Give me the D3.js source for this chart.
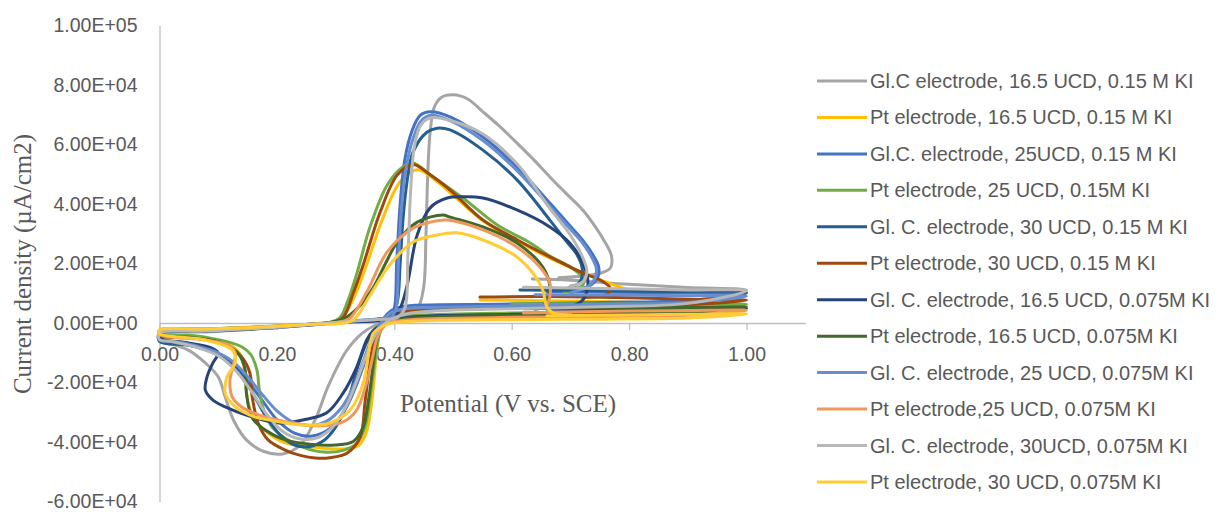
<!DOCTYPE html>
<html>
<head>
<meta charset="utf-8">
<script src="https://cdn.jsdelivr.net/npm/d3@7"></script>
<style>
  html, body { margin: 0; padding: 0; background: #ffffff; }
  svg { display: block; }
  .tick text { font-family: "Liberation Sans", Arial, sans-serif; font-size: 19.5px; fill: #595959; }
  .legend text { font-family: "Liberation Sans", Arial, sans-serif; font-size: 20px; fill: #595959; }
  .title { font-family: "Liberation Serif", "Times New Roman", serif; font-size: 25px; fill: #595959; }
</style>
</head>
<body>
<svg id="chart" width="1223" height="512"></svg>
<script>
// Cyclic voltammograms: [potential (V vs. SCE), current density (µA/cm2)]
const glc165_015 = [[0.635,14800],[0.70,14400],[0.80,13000],[0.90,11900],[1.00,11000],
  [0.92,7800],[0.78,6400],[0.62,5300],[0.50,4500],[0.43,3300],[0.40,1500],[0.37,-500],[0.345,-3500],[0.318,-9500],[0.288,-21000],[0.265,-32600],[0.24,-41000],[0.21,-44000],[0.178,-43200],[0.148,-39300],[0.126,-32600],[0.112,-24900],[0.10,-18100],[0.078,-13400],[0.049,-9100],[0.015,-6800],[0.0,-6000],
  [0.0,-3800],[0.08,-3000],[0.18,-1800],[0.27,-500],[0.33,600],[0.38,1500],[0.42,2500],[0.44,5000],[0.45,12000],[0.454,30000],[0.457,50000],[0.461,64000],[0.468,72500],[0.48,75800],[0.50,76700],[0.525,75300],[0.551,71000],[0.58,66000],[0.609,60500],[0.637,55000],[0.665,49100],[0.693,43500],[0.721,38000],[0.742,32500],[0.758,27500],[0.77,22500],[0.768,18500],[0.752,16800],[0.72,15800],[0.68,15200]];

const pt165_015 = [[0.546,7700],[0.65,7500],[0.80,7000],[0.90,6500],[1.00,6000],
  [0.90,3800],[0.75,3200],[0.60,2700],[0.48,2300],[0.42,1800],[0.39,500],[0.377,-2500],[0.371,-8000],[0.366,-18000],[0.36,-29000],[0.352,-37000],[0.34,-41000],[0.32,-42200],[0.29,-42300],[0.255,-41500],[0.214,-40300],[0.185,-37000],[0.163,-32600],[0.151,-26900],[0.146,-18100],[0.14,-11400],[0.125,-8000],[0.106,-6700],[0.05,-4800],[0.0,-4000],
  [0.0,-2700],[0.08,-2200],[0.18,-1400],[0.26,-400],[0.29,200],[0.31,1500],[0.33,8000],[0.35,18000],[0.38,35000],[0.41,47500],[0.44,51500],[0.47,48000],[0.50,43000],[0.55,34500],[0.61,27500],[0.665,21800],[0.72,17000],[0.76,13800],[0.80,11000]];

const glc25_015 = [[0.66,10500],[0.78,10300],[0.90,10100],[1.00,10000],
  [0.90,7600],[0.75,6900],[0.60,6400],[0.48,6100],[0.42,5700],[0.395,4200],[0.38,1000],[0.37,-2500],[0.36,-7000],[0.348,-14000],[0.333,-22000],[0.315,-29500],[0.29,-35500],[0.26,-38000],[0.23,-37000],[0.20,-32500],[0.175,-26000],[0.15,-19500],[0.125,-14000],[0.10,-10500],[0.065,-8200],[0.03,-6600],[0.0,-5700],
  [0.0,-3300],[0.08,-2600],[0.18,-1600],[0.27,-300],[0.33,700],[0.37,1300],[0.392,2000],[0.40,5000],[0.404,20000],[0.41,40000],[0.418,55000],[0.43,64500],[0.444,69800],[0.461,71000],[0.495,69300],[0.551,62500],[0.609,52400],[0.665,40300],[0.70,32500],[0.721,27800],[0.738,23000],[0.748,19000],[0.747,15500],[0.735,12800],[0.715,11500]];

const pt25_015 = [[0.60,6500],[0.75,6400],[0.90,6300],[1.00,6200],
  [0.90,4600],[0.75,3900],[0.60,3400],[0.48,2900],[0.42,2300],[0.39,800],[0.378,-2000],[0.372,-6000],[0.366,-14000],[0.358,-26000],[0.35,-35000],[0.336,-40500],[0.313,-42800],[0.28,-43400],[0.245,-41800],[0.214,-38700],[0.192,-35000],[0.178,-29500],[0.17,-22500],[0.166,-15800],[0.155,-10500],[0.14,-8000],[0.117,-6400],[0.06,-4300],[0.0,-3400],
  [0.0,-2400],[0.08,-2000],[0.18,-1200],[0.26,-300],[0.29,200],[0.307,1700],[0.32,7000],[0.336,16500],[0.359,32500],[0.388,46400],[0.415,52500],[0.432,53800],[0.46,50000],[0.517,42000],[0.575,33000],[0.631,27000],[0.665,22500],[0.70,18800],[0.72,15500],[0.722,13000],[0.71,11500],[0.69,10500]];

const glc30_015 = [[0.614,11100],[0.70,11000],[0.85,10600],[1.00,10200],
  [0.90,6300],[0.75,5500],[0.60,5000],[0.48,4500],[0.42,3700],[0.39,1200],[0.375,-1500],[0.364,-3500],[0.353,-6500],[0.336,-15800],[0.32,-26900],[0.30,-35000],[0.28,-39500],[0.255,-41500],[0.23,-41000],[0.205,-37500],[0.18,-31000],[0.16,-24000],[0.14,-17500],[0.12,-12500],[0.09,-9500],[0.05,-7500],[0.0,-6200],
  [0.0,-3500],[0.08,-2800],[0.18,-1800],[0.27,-400],[0.33,600],[0.37,1200],[0.395,2500],[0.405,7000],[0.41,20000],[0.415,35300],[0.422,48000],[0.432,57500],[0.456,64200],[0.473,65500],[0.495,64900],[0.551,58100],[0.609,48100],[0.665,34600],[0.695,27000],[0.711,23000],[0.72,18500],[0.718,14500],[0.705,12200],[0.68,11300]];

const pt30_015 = [[0.546,8700],[0.65,8900],[0.80,8500],[0.90,8000],[1.00,7600],
  [0.90,6100],[0.75,5500],[0.60,5000],[0.48,4600],[0.42,4000],[0.39,1500],[0.378,-1500],[0.37,-4000],[0.364,-7500],[0.359,-12400],[0.35,-26900],[0.342,-38300],[0.32,-43700],[0.29,-45300],[0.265,-45400],[0.24,-44500],[0.214,-42700],[0.185,-39300],[0.168,-33600],[0.158,-24900],[0.154,-16800],[0.14,-11400],[0.106,-6700],[0.05,-5000],[0.0,-4300],
  [0.0,-2900],[0.08,-2400],[0.18,-1500],[0.26,-500],[0.29,0],[0.312,1700],[0.33,10000],[0.347,19500],[0.376,37300],[0.405,49700],[0.432,53300],[0.46,50000],[0.495,44700],[0.551,34600],[0.609,28000],[0.665,22200],[0.721,16800],[0.75,14500],[0.767,12000],[0.765,10000],[0.745,8800],[0.72,8600]];

const glc165_0075 = [[0.66,4600],[0.80,4700],[0.90,4700],[1.00,4800],
  [0.90,3800],[0.75,3300],[0.60,2900],[0.48,2500],[0.42,1800],[0.39,500],[0.375,-1000],[0.364,-2500],[0.353,-5700],[0.336,-14800],[0.313,-23500],[0.285,-30200],[0.244,-32600],[0.209,-33600],[0.185,-33000],[0.163,-31900],[0.124,-29200],[0.091,-25900],[0.078,-22500],[0.081,-18100],[0.091,-13400],[0.10,-10100],[0.089,-8400],[0.049,-6700],[0.0,-5000],
  [0.0,-3100],[0.08,-2500],[0.18,-1600],[0.27,-300],[0.33,400],[0.37,700],[0.395,1500],[0.41,5000],[0.422,12800],[0.439,29600],[0.461,38700],[0.49,42000],[0.517,42400],[0.551,42000],[0.609,38000],[0.665,32300],[0.699,26900],[0.721,20200],[0.73,13400],[0.721,7700],[0.694,5000],[0.675,4600]];

const pt165_0075 = [[0.62,4800],[0.75,5000],[0.90,5200],[1.00,5300],
  [0.90,3600],[0.75,3000],[0.60,2600],[0.48,2200],[0.42,1500],[0.39,300],[0.377,-2000],[0.37,-6000],[0.364,-14000],[0.356,-26000],[0.347,-35000],[0.33,-39800],[0.30,-41000],[0.26,-40800],[0.214,-39300],[0.18,-36000],[0.158,-31900],[0.148,-23500],[0.146,-15800],[0.135,-10500],[0.11,-7000],[0.05,-4800],[0.0,-4000],
  [0.0,-2600],[0.08,-2100],[0.18,-1300],[0.26,-300],[0.29,200],[0.315,1500],[0.34,5500],[0.364,11800],[0.385,20000],[0.405,27200],[0.439,33900],[0.483,36300],[0.495,35600],[0.551,32300],[0.609,26900],[0.653,18800],[0.665,12100],[0.66,7500],[0.653,5400],[0.64,4600]];

const glc25_0075 = [[0.64,9500],[0.78,9400],[0.90,9200],[1.00,9000],
  [0.90,6900],[0.75,6200],[0.60,5700],[0.48,5300],[0.42,4800],[0.395,3500],[0.38,800],[0.37,-2500],[0.358,-7000],[0.345,-14000],[0.33,-21500],[0.31,-28500],[0.285,-33000],[0.26,-34500],[0.23,-33500],[0.20,-29500],[0.175,-24000],[0.15,-18000],[0.125,-13000],[0.10,-10000],[0.065,-7800],[0.03,-6300],[0.0,-5500],
  [0.0,-3200],[0.08,-2500],[0.18,-1500],[0.27,-300],[0.33,700],[0.37,1200],[0.395,2000],[0.403,5000],[0.407,20000],[0.412,38000],[0.42,52000],[0.432,62000],[0.446,68000],[0.463,69800],[0.495,68000],[0.551,61300],[0.609,51200],[0.665,39200],[0.70,31500],[0.721,26800],[0.736,22200],[0.744,18500],[0.742,15000],[0.73,12300],[0.70,10200]];

const pt25_0075 = [[0.62,3400],[0.80,4000],[0.90,4200],[1.00,4300],
  [0.90,2600],[0.75,2200],[0.60,1900],[0.48,1500],[0.42,1000],[0.39,0],[0.377,-2500],[0.37,-5500],[0.362,-12500],[0.35,-22000],[0.335,-29500],[0.31,-33500],[0.28,-34500],[0.24,-34000],[0.21,-33000],[0.18,-31600],[0.14,-28200],[0.124,-24900],[0.12,-19200],[0.125,-14800],[0.129,-10100],[0.117,-7400],[0.078,-5700],[0.0,-3900],
  [0.0,-2500],[0.08,-2000],[0.18,-1300],[0.26,-400],[0.29,-100],[0.31,400],[0.325,1700],[0.353,10400],[0.388,23900],[0.432,31900],[0.461,33900],[0.49,34600],[0.551,31300],[0.609,25500],[0.648,18800],[0.665,13400],[0.665,8700],[0.66,5400],[0.67,3400],[0.70,3100]];

const glc30_0075 = [[0.62,12000],[0.75,11600],[0.90,11100],[1.00,10800],
  [0.90,6600],[0.75,5500],[0.60,4800],[0.48,4200],[0.42,3000],[0.39,800],[0.376,-1500],[0.365,-5000],[0.352,-11000],[0.336,-19500],[0.318,-28000],[0.295,-35000],[0.27,-38500],[0.24,-39000],[0.21,-36500],[0.18,-30000],[0.155,-22500],[0.13,-16000],[0.10,-11000],[0.06,-8000],[0.02,-6200],[0.0,-5600],
  [0.0,-3400],[0.08,-2700],[0.18,-1700],[0.27,-300],[0.33,700],[0.37,1200],[0.405,1800],[0.418,5000],[0.423,22000],[0.428,45000],[0.434,59000],[0.445,66500],[0.462,69000],[0.50,67800],[0.551,63500],[0.609,53500],[0.665,38500],[0.70,29500],[0.72,22500],[0.728,17500],[0.722,14000],[0.70,12500]];

const pt30_0075 = [[0.66,2400],[0.80,2700],[0.90,2900],[1.00,3000],
  [0.90,1700],[0.75,1300],[0.60,1100],[0.48,900],[0.42,500],[0.39,-300],[0.376,-1500],[0.364,-3500],[0.359,-6700],[0.347,-20200],[0.325,-29200],[0.29,-33600],[0.244,-34300],[0.188,-32600],[0.163,-31600],[0.129,-28200],[0.112,-23500],[0.115,-18100],[0.129,-13400],[0.124,-9100],[0.078,-5700],[0.0,-3600],
  [0.0,-2400],[0.08,-2000],[0.18,-1300],[0.26,-400],[0.30,-300],[0.33,1000],[0.359,9400],[0.392,19500],[0.432,27200],[0.473,29600],[0.507,30300],[0.551,27900],[0.609,22200],[0.636,16800],[0.653,11100],[0.66,5400],[0.67,3400],[0.694,2700]];

const seriesNames = [
  "Gl.C electrode, 16.5 UCD, 0.15 M KI",
  "Pt electrode, 16.5 UCD, 0.15 M KI",
  "Gl.C. electrode, 25UCD, 0.15 M KI",
  "Pt electrode, 25 UCD, 0.15M KI",
  "Gl. C. electrode, 30 UCD, 0.15 M KI",
  "Pt electrode, 30 UCD, 0.15 M KI",
  "Gl. C. electrode, 16.5 UCD, 0.075M KI",
  "Pt electrode, 16.5 UCD, 0.075M KI",
  "Gl. C. electrode, 25 UCD, 0.075M KI",
  "Pt electrode,25 UCD, 0.075M KI",
  "Gl. C. electrode, 30UCD, 0.075M KI",
  "Pt electrode, 30 UCD, 0.075M KI"
];
const seriesData = [glc165_015, pt165_015, glc25_015, pt25_015, glc30_015, pt30_015,
                    glc165_0075, pt165_0075, glc25_0075, pt25_0075, glc30_0075, pt30_0075];
const seriesColors = ["#A5A5A5", "#FFC000", "#4472C4", "#70AD47", "#255E91", "#9E480E",
                      "#264478", "#43682B", "#698ED0", "#F1975A", "#B7B7B7", "#FFCD33"];

const xTickValues = [0, 0.2, 0.4, 0.6, 0.8, 1.0];
const xTickLabels = ["0.00", "0.20", "0.40", "0.60", "0.80", "1.00"];
const yTickValues = [-60000, -40000, -20000, 0, 20000, 40000, 60000, 80000, 100000];
const yTickLabels = ["-6.00E+04", "-4.00E+04", "-2.00E+04", "0.00E+00", "2.00E+04",
                     "4.00E+04", "6.00E+04", "8.00E+04", "1.00E+05"];

const xTitle = "Potential (V vs. SCE)";
const yTitle = "Current density (µA/cm2)";

const svg = d3.select("#chart");

const x = d3.scaleLinear().domain([0, 1.1]).range([159.5, 805.2]);
const y = d3.scaleLinear().domain([-60000, 100000]).range([501.5, 25.5]);

const axisColor = "#BFBFBF";

// Y axis (vertical line at x = 0 with scientific labels)
const yAxis = svg.append("g")
  .attr("transform", `translate(${x(0)},0)`)
  .call(d3.axisLeft(y).tickValues(yTickValues)
    .tickFormat((d, i) => yTickLabels[i])
    .tickSize(0).tickSizeOuter(0).tickPadding(22));
yAxis.select(".domain").attr("stroke", axisColor).attr("stroke-width", 1.3);

// X axis crossing at zero current
const xAxis = svg.append("g")
  .attr("transform", `translate(0,${y(0)})`)
  .call(d3.axisBottom(x).tickValues(xTickValues)
    .tickFormat((d, i) => xTickLabels[i])
    .tickSize(7).tickSizeOuter(0).tickPadding(17));
xAxis.select(".domain").attr("stroke", axisColor).attr("stroke-width", 1.3);
xAxis.selectAll(".tick line").attr("stroke", axisColor).attr("stroke-width", 1.3);

// Axis titles
svg.append("text").attr("class", "title")
  .attr("x", 508).attr("y", 412).attr("text-anchor", "middle")
  .text(xTitle);
svg.append("text").attr("class", "title")
  .attr("transform", "translate(22,264) rotate(-90)")
  .attr("text-anchor", "middle").attr("dominant-baseline", "central")
  .text(yTitle);

// Voltammogram loops
const line = d3.line()
  .x(d => x(d[0]))
  .y(d => y(d[1]))
  .curve(d3.curveCatmullRom.alpha(0.5));

svg.append("g").selectAll("path")
  .data(seriesData)
  .join("path")
  .attr("d", d => line(d))
  .attr("fill", "none")
  .attr("stroke", (d, i) => seriesColors[i])
  .attr("stroke-width", 3)
  .attr("stroke-linejoin", "round")
  .attr("stroke-linecap", "round");

// Legend
const legend = svg.append("g").attr("class", "legend");
const rows = legend.selectAll("g")
  .data(seriesNames)
  .join("g")
  .attr("transform", (d, i) => `translate(817,${81 + i * 36.45})`);
rows.append("line")
  .attr("x1", 0).attr("x2", 50).attr("y1", 0).attr("y2", 0)
  .attr("stroke", (d, i) => seriesColors[i])
  .attr("stroke-width", 3);
rows.append("text")
  .attr("x", 53).attr("y", 0).attr("dy", "0.35em")
  .text(d => d);
</script>
</body>
</html>
